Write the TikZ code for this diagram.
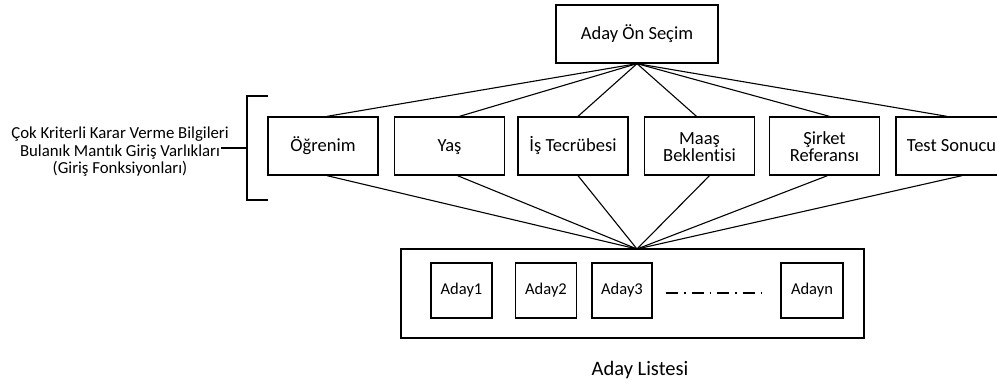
\documentclass[tikz,border=0pt]{standalone}
\usepackage{fontspec}
\setmainfont{Carlito}[Ligatures={NoCommon}]
\usetikzlibrary{calc}
\begin{document}
\begin{tikzpicture}[x=1pt,y=-1pt,
  box/.style={draw,line width=1.3pt,inner sep=0pt,align=center,font=\fontsize{18.5}{17}\selectfont},
  crit/.style={box,minimum width=110pt,minimum height=58pt},
  one/.style={text height=13.5pt,text depth=3pt},
  two/.style={text height=32pt,text depth=2pt},
  inbox/.style={draw,line width=1.3pt,inner sep=0pt,minimum width=61pt,minimum height=55pt,text height=11.5pt,text depth=3.5pt,font=\fontsize{16.5}{18}\selectfont},
  conn/.style={line width=1.1pt},
  brack/.style={line width=2pt}]
\useasboundingbox (0,0) rectangle (997,384);
\clip (0,0) rectangle (997,384);
% top
\node[box,one,minimum width=162pt,minimum height=58pt] (top) at (637,34) {Aday Ön Seçim};
% criteria
\node[crit,one] (c1) at (323,146) {Öğrenim};
\node[crit,one] (c2) at (449.5,146) {Yaş};
\node[crit,one] (c3) at (573,146) {İş Tecrübesi};
\node[crit,two] (c4) at (699.5,146) {Maaş\\Beklentisi};
\node[crit,two] (c5) at (824.5,146) {Şirket\\Referansı};
\node[crit,one,minimum width=111pt] (c6) at (951.5,146) {Test Sonucu};
% list
\node[draw,line width=1.3pt,minimum width=463pt,minimum height=89pt,inner sep=0pt] (list) at (632.5,293.5) {};
\coordinate (conv) at (637,249);
\node[inbox] (a1) at (461.5,290.5) {Aday1};
\node[inbox] (a2) at (546,290.5) {Aday2};
\node[inbox,minimum width=60pt] (a3) at (622,290.5) {Aday3};
\node[inbox,minimum width=62pt] (an) at (812,290.5) {Adayn};
\coordinate (d1) at (666,293);
\coordinate (d2) at (768,293);
\draw[line width=1.5pt,dash pattern=on 12pt off 6pt on 1.5pt off 6pt] (d1) -- (d2);
\node[font=\fontsize{20.5}{22}\selectfont,inner sep=0pt] (lbl) at (640,370) {Aday Listesi};
% connectors top
\draw[conn] (top.south) -- ($(c1.north)+(4,0)$);
\draw[conn] (top.south) -- ($(c2.north)+(10,0)$);
\draw[conn] (top.south) -- ($(c3.north)+(5,0)$);
\draw[conn] (top.south) -- ($(c4.north)+(-3,0)$);
\draw[conn] (top.south) -- ($(c5.north)+(5,0)$);
\draw[conn] (top.south) -- ($(c6.north)+(-4.5,0)$);
% connectors bottom
\draw[conn] ($(c1.south)+(4,0)$) -- (conv);
\draw[conn] ($(c2.south)+(8,0)$) -- (conv);
\draw[conn] ($(c3.south)+(5,0)$) -- (conv);
\draw[conn] ($(c4.south)+(10,0)$) -- (conv);
\draw[conn] ($(c5.south)+(3,0)$) -- (conv);
\draw[conn] ($(c6.south)+(10.5,0)$) -- (conv);
% bracket
\coordinate (bt) at (268,96);
\coordinate (bb) at (268,200);
\coordinate (bm) at (247,148);
\draw[brack] (bt) -- (247,96) -- (247,200) -- (bb);
\node[align=center,inner sep=0pt,font=\fontsize{16.8}{17.5}\selectfont] (lt) at (120,152) {Çok Kriterli Karar Verme Bilgileri\\Bulanık Mantık Giriş Varlıkları\\(Giriş Fonksiyonları)};
\draw[brack] (221,148) -- (bm);
\end{tikzpicture}
\end{document}
